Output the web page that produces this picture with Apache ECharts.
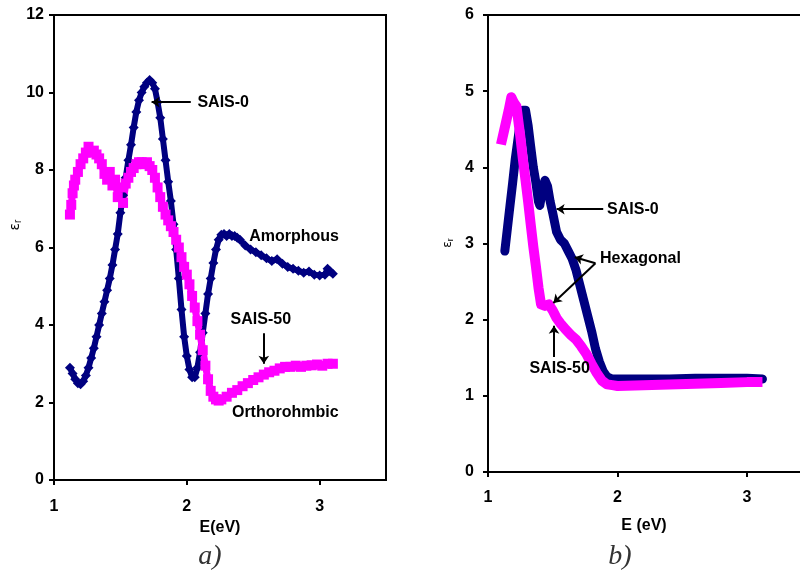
<!DOCTYPE html>
<html>
<head>
<meta charset="utf-8">
<script src="https://cdn.jsdelivr.net/npm/echarts@6/dist/echarts.min.js"></script>
<style>
  html, body { margin: 0; padding: 0; background: #ffffff; }
  #chart { width: 800px; height: 571px; }
</style>
</head>
<body>
<div id="chart"></div>
<script>
// panel a) SAIS-0 (amorphous)
const aBlueE = [1.12, 1.14, 1.16, 1.18, 1.20, 1.22, 1.24, 1.26, 1.28, 1.30, 1.32, 1.34, 1.36, 1.38, 1.40,
  1.42, 1.44, 1.46, 1.48, 1.50, 1.52, 1.54, 1.56, 1.58, 1.60, 1.62, 1.64, 1.66, 1.68, 1.70, 1.72,
  1.74, 1.76, 1.78, 1.80, 1.82, 1.84, 1.86, 1.88, 1.90, 1.92, 1.94, 1.96, 1.98, 2.00, 2.02, 2.04,
  2.06, 2.08, 2.10, 2.12, 2.14, 2.16, 2.18, 2.20, 2.22, 2.24, 2.26, 2.28, 2.30, 2.32, 2.34, 2.36,
  2.38, 2.40, 2.44, 2.48, 2.52, 2.56, 2.60, 2.64, 2.68, 2.72, 2.76, 2.80, 2.84, 2.88, 2.92, 2.96,
  3.00, 3.04, 3.06, 3.08, 3.10];
const aBlueEps = [2.90, 2.75, 2.60, 2.50, 2.47, 2.55, 2.70, 2.90, 3.15, 3.40, 3.70, 4.00, 4.30, 4.60, 4.90,
  5.20, 5.55, 5.95, 6.35, 6.90, 7.35, 7.80, 8.25, 8.65, 9.10, 9.50, 9.80, 10.00, 10.15, 10.25, 10.32,
  10.25, 10.10, 9.75, 9.35, 8.80, 8.25, 7.70, 7.20, 6.60, 5.95, 5.20, 4.40, 3.70, 3.20, 2.85, 2.65,
  2.65, 2.90, 3.30, 3.80, 4.30, 4.80, 5.20, 5.60, 5.95, 6.20, 6.33, 6.35, 6.30, 6.35, 6.30, 6.30,
  6.25, 6.20, 6.05, 5.95, 5.88, 5.80, 5.72, 5.65, 5.70, 5.58, 5.50, 5.45, 5.40, 5.35, 5.38, 5.30,
  5.28, 5.30, 5.45, 5.38, 5.32];

// panel a) SAIS-50 (orthorhombic)
const aPinkE = [1.12, 1.13, 1.14, 1.15, 1.16, 1.18, 1.20, 1.22, 1.24, 1.26, 1.28, 1.30, 1.32, 1.34, 1.36,
  1.38, 1.40, 1.42, 1.44, 1.46, 1.48, 1.50, 1.52, 1.54, 1.56, 1.58, 1.60, 1.62, 1.64, 1.66, 1.68,
  1.70, 1.72, 1.74, 1.76, 1.78, 1.80, 1.82, 1.84, 1.86, 1.88, 1.90, 1.92, 1.94, 1.96, 1.98, 2.00,
  2.02, 2.04, 2.06, 2.08, 2.10, 2.12, 2.14, 2.16, 2.18, 2.20, 2.22, 2.24, 2.26, 2.30, 2.34, 2.38,
  2.42, 2.46, 2.50, 2.54, 2.58, 2.62, 2.66, 2.70, 2.74, 2.78, 2.82, 2.86, 2.90, 2.94, 2.98, 3.02,
  3.06, 3.10];
const aPinkEps = [6.85, 7.10, 7.40, 7.60, 7.75, 7.95, 8.15, 8.30, 8.45, 8.60, 8.45, 8.50, 8.40, 8.30, 8.15,
  7.90, 7.75, 7.95, 7.60, 7.75, 7.30, 7.55, 7.15, 7.65, 7.80, 7.95, 8.05, 8.15, 8.20, 8.20, 8.15,
  8.20, 8.10, 8.00, 7.80, 7.55, 7.30, 7.05, 6.85, 6.70, 6.55, 6.40, 6.20, 6.00, 5.75, 5.50, 5.30,
  5.05, 4.75, 4.45, 4.10, 3.75, 3.35, 2.95, 2.60, 2.30, 2.15, 2.08, 2.05, 2.08, 2.15, 2.25, 2.32,
  2.42, 2.50, 2.58, 2.65, 2.72, 2.78, 2.82, 2.88, 2.92, 2.92, 2.95, 2.92, 2.95, 2.96, 2.98, 2.95,
  3.00, 3.00];

// panel b) SAIS-0 (hexagonal)
const bBlueE = [1.13, 1.15, 1.17, 1.19, 1.21, 1.23, 1.25, 1.27, 1.29, 1.31, 1.33, 1.35, 1.37, 1.39, 1.40,
  1.42, 1.44, 1.46, 1.48, 1.50, 1.53, 1.56, 1.59, 1.62, 1.65, 1.68, 1.71, 1.74, 1.77, 1.80, 1.83,
  1.86, 1.89, 1.92, 1.96, 2.00, 2.20, 2.40, 2.60, 2.80, 3.00, 3.12];
const bBlueEps = [2.90, 3.20, 3.50, 3.79, 4.10, 4.35, 4.60, 4.75, 4.75, 4.55, 4.27, 4.00, 3.80, 3.55, 3.50,
  3.70, 3.83, 3.75, 3.55, 3.40, 3.15, 3.05, 3.00, 2.90, 2.80, 2.65, 2.45, 2.25, 2.05, 1.85, 1.62,
  1.45, 1.32, 1.25, 1.22, 1.22, 1.22, 1.22, 1.23, 1.23, 1.23, 1.22];

// panel b) SAIS-50 (hexagonal)
const bPinkE = [1.10, 1.12, 1.14, 1.16, 1.18, 1.20, 1.22, 1.25, 1.27, 1.29, 1.31, 1.33, 1.35, 1.37, 1.39,
  1.41, 1.44, 1.47, 1.50, 1.53, 1.56, 1.60, 1.64, 1.68, 1.72, 1.76, 1.80, 1.84, 1.88, 1.92, 1.96,
  2.00, 2.20, 2.40, 2.60, 2.80, 3.00, 3.12];
const bPinkEps = [4.30, 4.45, 4.60, 4.75, 4.92, 4.85, 4.80, 4.40, 4.10, 3.83, 3.55, 3.25, 2.96, 2.70, 2.42,
  2.20, 2.18, 2.20, 2.12, 2.02, 1.95, 1.87, 1.80, 1.74, 1.65, 1.55, 1.42, 1.30, 1.20, 1.15, 1.14,
  1.13, 1.14, 1.15, 1.16, 1.17, 1.18, 1.18];

const xTicks = [1, 2, 3];
const yTicksA = [0, 2, 4, 6, 8, 10, 12];
const yTicksB = [0, 1, 2, 3, 4, 5, 6];

// annotations: [text, E, eps]
const notesA = [['SAIS-0', 2.08, 9.75], ['Amorphous', 2.47, 6.27], ['SAIS-50', 2.33, 4.15], ['Orthorohmbic', 2.34, 1.75]];
const notesB = [['SAIS-0', 1.92, 3.45], ['Hexagonal', 1.865, 2.8], ['SAIS-50', 1.32, 1.36]];
const arrowsA = [[[2.03, 9.75], [1.735, 9.75]], [[2.58, 3.79], [2.58, 3.0]]];
const arrowsB = [[[1.89, 3.45], [1.53, 3.45]], [[1.83, 2.74], [1.67, 2.82]], [[1.83, 2.74], [1.505, 2.22]], [[1.51, 1.51], [1.51, 1.92]]];

const NAVY = '#000080';
const MAGENTA = '#ff00ff';
const FONT = '"Liberation Sans", Arial, sans-serif';

const zip = (xs, ys) => xs.map((x, i) => [x, ys[i]]);

function xAxisOf(gridIndex, max, name, gap, margin) {
  return {
    type: 'value', gridIndex: gridIndex, min: 1, max: max, interval: 1,
    name: name, nameLocation: 'middle', nameGap: gap,
    nameTextStyle: { color: '#000', fontWeight: 'bold', fontSize: 16, fontFamily: FONT },
    axisLine: { show: true, onZero: false, lineStyle: { color: '#000', width: 2 } },
    axisTick: { show: true, length: 5, customValues: xTicks, lineStyle: { color: '#000', width: 2 } },
    axisLabel: { customValues: xTicks, margin: margin, color: '#000', fontWeight: 'bold', fontSize: 16, fontFamily: FONT },
    splitLine: { show: false }
  };
}

function yAxisOf(gridIndex, max, interval, ticks, margin, size) {
  return {
    type: 'value', gridIndex: gridIndex, min: 0, max: max, interval: interval,
    axisLine: { show: true, onZero: false, lineStyle: { color: '#000', width: 2 } },
    axisTick: { show: true, length: 5, customValues: ticks, lineStyle: { color: '#000', width: 2 } },
    axisLabel: { customValues: ticks, margin: margin, color: '#000', fontWeight: 'bold', fontSize: size, fontFamily: FONT },
    splitLine: { show: false }
  };
}

const chart = echarts.init(document.getElementById('chart'), null, { renderer: 'canvas' });

const option = {
  animation: false,
  backgroundColor: '#ffffff',
  grid: [
    { left: 54, top: 15, right: 414, bottom: 91, show: true, borderColor: '#000', borderWidth: 2 },
    // panel b is cut at the right edge of the picture, so no right border
    { left: 488, top: 15, right: 0, bottom: 99, show: false }
  ],
  xAxis: [
    xAxisOf(0, 3.5, 'E(eV)', 40, 19),
    xAxisOf(1, 3.41, 'E (eV)', 46, 18),
    {
      type: 'value', gridIndex: 1, position: 'top', min: 1, max: 3.41,
      axisLine: { show: true, onZero: false, lineStyle: { color: '#000', width: 2 } },
      axisTick: { show: false }, axisLabel: { show: false }, splitLine: { show: false }
    }
  ],
  yAxis: [yAxisOf(0, 12, 2, yTicksA, 10, 16), yAxisOf(1, 6, 1, yTicksB, 14, 16)],
  series: [
    {
      name: 'SAIS-0 a', type: 'line', xAxisIndex: 0, yAxisIndex: 0,
      data: zip(aBlueE, aBlueEps), symbol: 'diamond', symbolSize: 10,
      itemStyle: { color: NAVY }, lineStyle: { color: NAVY, width: 6 }
    },
    {
      name: 'SAIS-50 a', type: 'line', xAxisIndex: 0, yAxisIndex: 0,
      data: zip(aPinkE, aPinkEps), symbol: 'rect', symbolSize: 10,
      itemStyle: { color: MAGENTA }, lineStyle: { color: MAGENTA, width: 7 }
    },
    {
      name: 'SAIS-0 b', type: 'line', xAxisIndex: 1, yAxisIndex: 1,
      data: zip(bBlueE, bBlueEps), showSymbol: false, symbol: 'none',
      lineStyle: { color: NAVY, width: 9, cap: 'round', join: 'round' }
    },
    {
      name: 'SAIS-50 b', type: 'line', xAxisIndex: 1, yAxisIndex: 1,
      data: zip(bPinkE, bPinkEps), showSymbol: false, symbol: 'none',
      lineStyle: { color: MAGENTA, width: 10, join: 'round' }
    },
    {
      type: 'lines', coordinateSystem: 'cartesian2d', xAxisIndex: 0, yAxisIndex: 0, z: 5,
      symbol: ['none', 'arrow'], symbolSize: 8,
      lineStyle: { color: '#000', width: 2, opacity: 1 },
      data: arrowsA.map(c => ({ coords: c }))
    },
    {
      type: 'lines', coordinateSystem: 'cartesian2d', xAxisIndex: 1, yAxisIndex: 1, z: 5,
      symbol: ['none', 'arrow'], symbolSize: 8,
      lineStyle: { color: '#000', width: 2, opacity: 1 },
      data: arrowsB.map(c => ({ coords: c }))
    }
  ]
};
chart.setOption(option);

// texts placed from data coordinates
const graphics = [];
[[notesA, 0], [notesB, 1]].forEach(([notes, gi]) => {
  notes.forEach(n => {
    const p = chart.convertToPixel({ gridIndex: gi }, [n[1], n[2]]);
    graphics.push({
      type: 'text', x: p[0], y: p[1], z: 10,
      style: { text: n[0], fill: '#000', font: 'bold 16px ' + FONT, verticalAlign: 'middle', align: 'left' }
    });
  });
});

// y titles and panel captions
graphics.push({
  type: 'text', x: 15, y: 225, rotation: Math.PI / 2, z: 10,
  style: {
    text: '{e|ε}{r|r}', align: 'center', verticalAlign: 'middle',
    rich: { e: { fontSize: 14, fontFamily: '"DejaVu Sans"', fill: '#000' }, r: { fontSize: 10, fontFamily: FONT, fill: '#000', padding: [6, 0, 0, 0] } }
  }
});
graphics.push({
  type: 'text', x: 448, y: 243, rotation: Math.PI / 2, z: 10,
  style: {
    text: '{e|ε}{r|r}', align: 'center', verticalAlign: 'middle',
    rich: { e: { fontSize: 12, fontFamily: '"DejaVu Sans"', fill: '#000' }, r: { fontSize: 9, fontFamily: FONT, fill: '#000', padding: [5, 0, 0, 0] } }
  }
});
graphics.push({
  type: 'text', x: 210, y: 557, z: 10,
  style: { text: 'a)', fill: '#333', font: 'italic 28px "Liberation Serif", serif', align: 'center', verticalAlign: 'middle' }
});
graphics.push({
  type: 'text', x: 620, y: 557, z: 10,
  style: { text: 'b)', fill: '#333', font: 'italic 28px "Liberation Serif", serif', align: 'center', verticalAlign: 'middle' }
});

chart.setOption({ graphic: graphics });
</script>
</body>
</html>
